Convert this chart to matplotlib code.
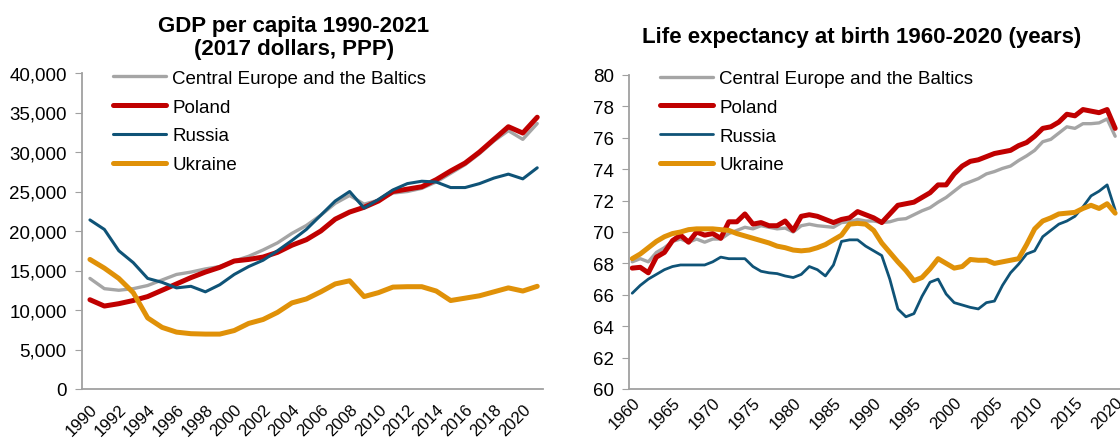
import numpy as np
import matplotlib.pyplot as plt
from matplotlib.ticker import FuncFormatter, MultipleLocator

plt.rcParams['font.family'] = ['Liberation Sans', 'DejaVu Sans']

# GDP per capita, 2017 dollars PPP
gdp_years = list(range(1990, 2022))
gdp_ceb = [14000, 12700, 12500, 12700, 13100, 13800, 14500, 14800, 15200, 15500,
           16200, 16800, 17600, 18500, 19700, 20700, 22000, 23500, 24500, 23400,
           23900, 24800, 25000, 25400, 26200, 27300, 28400, 29800, 31400, 32700,
           31600, 33600]
gdp_poland = [11300, 10500, 10800, 11200, 11700, 12500, 13300, 14100, 14800, 15400,
              16200, 16400, 16700, 17300, 18200, 18900, 20000, 21500, 22400, 23000,
              23800, 25000, 25300, 25600, 26500, 27600, 28600, 30000, 31600, 33200,
              32400, 34400]
gdp_russia = [21400, 20200, 17500, 16000, 14000, 13500, 12800, 13000, 12300, 13200,
              14500, 15500, 16300, 17500, 18800, 20200, 22000, 23800, 25000, 22900,
              24000, 25200, 26000, 26300, 26200, 25500, 25500, 26000, 26700, 27200,
              26600, 28000]
gdp_ukraine = [16400, 15300, 14000, 12200, 9000, 7800, 7200, 7000, 6950, 6950,
               7400, 8300, 8800, 9700, 10900, 11400, 12300, 13300, 13700, 11700,
               12200, 12900, 12950, 12950, 12400, 11200, 11500, 11800, 12300, 12800,
               12400, 13000]

# Life expectancy at birth, years
le_years = list(range(1960, 2021))
le_ceb = [68.1, 68.3, 68.1, 68.7, 69.0, 69.4, 69.55, 69.35, 69.55, 69.35,
          69.55, 69.55, 69.9, 70.1, 70.3, 70.2, 70.4, 70.3, 70.2, 70.25,
          70.0, 70.4, 70.5, 70.4, 70.35, 70.3, 70.6, 70.65, 70.8, 70.7,
          70.7, 70.6, 70.65, 70.8, 70.85, 71.1, 71.35, 71.55, 71.9, 72.2,
          72.6, 73.0, 73.2, 73.4, 73.7, 73.85, 74.05, 74.2, 74.55, 74.85,
          75.2, 75.75, 75.9, 76.3, 76.7, 76.6, 76.9, 76.9, 76.95, 77.2,
          76.1]
le_poland = [67.7, 67.75, 67.4, 68.4, 68.7, 69.45, 69.8, 69.35, 70.0, 69.8,
             69.9, 69.6, 70.65, 70.65, 71.15, 70.5, 70.6, 70.4, 70.4, 70.7,
             70.1, 71.0, 71.1, 71.0, 70.8, 70.6, 70.8, 70.9, 71.3, 71.1,
             70.9, 70.6, 71.15, 71.7, 71.8, 71.9, 72.2, 72.5, 73.0, 73.0,
             73.7, 74.2, 74.5, 74.6, 74.8, 75.0, 75.1, 75.2, 75.5, 75.7,
             76.1, 76.6, 76.7, 77.0, 77.5, 77.4, 77.8, 77.7, 77.6, 77.8,
             76.6]
le_russia = [66.1, 66.6, 67.0, 67.3, 67.6, 67.8, 67.9, 67.9, 67.9, 67.9,
             68.1, 68.4, 68.3, 68.3, 68.3, 67.8, 67.5, 67.4, 67.35, 67.2,
             67.1, 67.3, 67.8, 67.6, 67.2, 67.9, 69.4, 69.5, 69.5, 69.1,
             68.8, 68.5, 67.0, 65.1, 64.6, 64.8, 65.9, 66.8, 67.0, 66.05,
             65.5, 65.35, 65.2, 65.1, 65.5, 65.6, 66.6, 67.4, 67.95, 68.6,
             68.8, 69.7, 70.1, 70.5, 70.7, 71.0, 71.6, 72.3, 72.6, 73.0,
             71.4]
le_ukraine = [68.3, 68.6, 69.0, 69.4, 69.7, 69.9, 70.0, 70.15, 70.2, 70.2,
              70.2, 70.15, 70.1, 69.9, 69.75, 69.6, 69.45, 69.3, 69.1, 69.0,
              68.85, 68.8, 68.85, 69.0, 69.2, 69.5, 69.8, 70.5, 70.55, 70.5,
              70.1, 69.3, 68.7, 68.1, 67.55, 66.9, 67.1, 67.65, 68.3, 68.0,
              67.7, 67.8, 68.25, 68.2, 68.2, 68.0, 68.1, 68.2, 68.3, 69.2,
              70.2, 70.7, 70.9, 71.15, 71.2, 71.25, 71.5, 71.7, 71.5, 71.8,
              71.2]

names = ['Central Europe and the Baltics', 'Poland', 'Russia', 'Ukraine']
colors = ['#A5A5A5', '#C00000', '#0F5377', '#E09108']
gdp_widths = [2.4, 3.6, 2.2, 3.6]
le_widths = [2.4, 3.6, 2.0, 3.6]

W, H = 1120, 439
fig = plt.figure(figsize=(W/100, H/100), dpi=100)
ax1 = fig.add_axes([82/W, 1-390/H, 461/W, 316/H])
ax2 = fig.add_axes([629/W, 1-390/H, 491/W, 314/H])

for s, c, w, n in zip([gdp_ceb, gdp_poland, gdp_russia, gdp_ukraine], colors, gdp_widths, names):
    ax1.plot(gdp_years, s, color=c, lw=w, label=n, solid_capstyle='round')
for s, c, w, n in zip([le_ceb, le_poland, le_russia, le_ukraine], colors, le_widths, names):
    ax2.plot(le_years, s, color=c, lw=w, label=n, solid_capstyle='round')

ax1.set_xlim(1989.45, 2021.4)
ax1.set_ylim(0, 40000)
ax1.yaxis.set_major_locator(MultipleLocator(5000))
ax1.yaxis.set_major_formatter(FuncFormatter(lambda v, p: f'{int(v):,}'))
ax1.set_xticks(range(1990, 2021, 2))

ax2.set_xlim(1959.6, 2020.6)
ax2.set_ylim(60, 80)
ax2.yaxis.set_major_locator(MultipleLocator(2))
ax2.set_xticks(range(1960, 2021, 5))

for ax, pad, anchor in ((ax1, 9, (31/461, 1.01)), (ax2, 4, (31/491, 1.016))):
    for sp in ('top', 'right'):
        ax.spines[sp].set_visible(False)
    for sp in ('left', 'bottom'):
        ax.spines[sp].set_color('#A0A0A0')
        ax.spines[sp].set_linewidth(1.3)
    ax.tick_params(axis='y', length=5, color='#A0A0A0', labelsize=13.5, pad=6)
    ax.tick_params(axis='x', length=0, labelsize=12, pad=pad)
    for lab in ax.get_xticklabels():
        lab.set_rotation(45)
        lab.set_ha('right')
        lab.set_rotation_mode('anchor')
    ax.legend(loc='upper left', frameon=False, fontsize=13.5, handlelength=2.85,
              handletextpad=0.32, labelspacing=0.62, borderaxespad=0, borderpad=0,
              bbox_to_anchor=anchor)

fig.text(294/W, 1-32/H, 'GDP per capita 1990-2021', ha='center', va='baseline',
         fontsize=16, fontweight='bold')
fig.text(294/W, 1-55/H, '(2017 dollars, PPP)', ha='center', va='baseline',
         fontsize=16, fontweight='bold')
fig.text(862/W, 1-43/H, 'Life expectancy at birth 1960-2020 (years)',
         ha='center', va='baseline', fontsize=16, fontweight='bold')

fig.savefig('out.png', dpi=100)
